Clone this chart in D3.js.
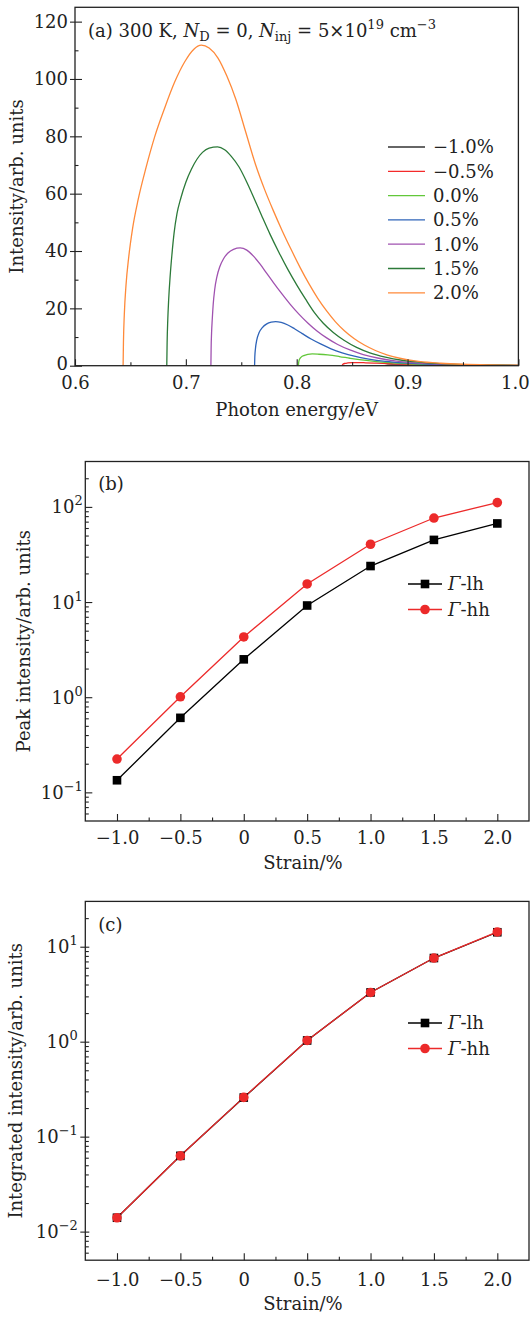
<!DOCTYPE html>
<html>
<head>
<meta charset="utf-8">
<script src="https://cdn.jsdelivr.net/npm/d3@7"></script>
<style>
  body { margin: 0; background: #fff; }
  svg text { font-family: "DejaVu Serif", "Liberation Serif", serif; fill: #222; }
</style>
</head>
<body>
<div id="chart"></div>
<script>
// ---- data ----
const strains = [-1.0, -0.5, 0, 0.5, 1.0, 1.5, 2.0];
const strainTickLabels = ["\u22121.0", "\u22120.5", "0", "0.5", "1.0", "1.5", "2.0"];

// (a) spectra, [photon energy (eV), intensity]
const specM10 = [[0.880,0],[0.8805,0.1],[0.882,0.2],[0.886,0.26],[0.892,0.28],[0.90,0.26],[0.915,0.2],[0.935,0.13],[0.96,0.07],[1.0,0.02]];
const specM05 = [[0.841,0],[0.8413,0.35],[0.842,0.6],[0.8435,0.8],[0.846,0.95],[0.850,1.05],[0.855,1.08],[0.862,1.02],[0.872,0.88],[0.885,0.68],[0.90,0.48],[0.92,0.28],[0.95,0.12],[1.0,0.03]];
const spec00 = [[0.8015,0],[0.8018,1.2],[0.8025,2.2],[0.804,3.0],[0.807,3.6],[0.810,3.95],[0.814,4.1],[0.820,4.0],[0.828,3.75],[0.8385,3.2],[0.848,2.6],[0.8566,2.1],[0.87,1.5],[0.893,0.85],[0.92,0.4],[0.95,0.18],[1.0,0.04]];
const spec05 = [[0.762,0],[0.7622,3],[0.7628,6],[0.764,9],[0.766,11.5],[0.769,13.3],[0.773,14.6],[0.777,15.2],[0.781,15.4],[0.786,15.1],[0.792,14.2],[0.798,12.9],[0.805,11.2],[0.813,9.3],[0.822,7.5],[0.831,5.9],[0.841,4.5],[0.852,3.3],[0.865,2.3],[0.88,1.5],[0.897,0.95],[0.92,0.5],[0.95,0.23],[0.975,0.12],[1.0,0.06]];
const spec10 = [[0.7226,0],[0.7228,6],[0.7232,11.4],[0.7238,16],[0.7247,21.5],[0.726,26.5],[0.728,31],[0.7307,34.6],[0.734,37.3],[0.738,39.3],[0.743,40.6],[0.749,41.1],[0.755,40.3],[0.761,38.2],[0.767,35.4],[0.773,32.2],[0.779,29.0],[0.786,25.4],[0.794,21.5],[0.802,18.0],[0.810,14.9],[0.818,12.2],[0.827,9.7],[0.837,7.4],[0.848,5.5],[0.86,3.9],[0.874,2.6],[0.89,1.6],[0.91,0.9],[0.93,0.52],[0.95,0.3],[0.975,0.15],[1.0,0.08]];
const spec15 = [[0.6828,0],[0.6831,8],[0.6837,16],[0.6845,23],[0.6858,31],[0.6875,39],[0.6894,46.3],[0.692,53],[0.6955,58.5],[0.700,64],[0.705,68.5],[0.710,72],[0.715,74.4],[0.721,75.9],[0.7286,76.3],[0.735,75.3],[0.741,73],[0.748,69.3],[0.755,64],[0.762,58],[0.769,51.8],[0.776,45.8],[0.784,39.5],[0.792,33.6],[0.800,28.2],[0.808,23.2],[0.816,18.5],[0.824,14.8],[0.833,11.6],[0.843,8.8],[0.854,6.4],[0.866,4.5],[0.88,3.0],[0.895,1.9],[0.915,1.1],[0.94,0.55],[0.97,0.26],[1.0,0.12]];
const spec20 = [[0.6434,0],[0.6437,8],[0.6445,18],[0.6460,28],[0.6485,38],[0.652,48],[0.657,58],[0.664,69],[0.672,80],[0.681,90],[0.690,99],[0.699,106],[0.707,110.3],[0.714,111.8],[0.721,110.8],[0.729,107.3],[0.737,101],[0.745,93],[0.754,81.5],[0.763,70],[0.771,61.5],[0.779,54],[0.787,47],[0.795,40.5],[0.803,34.3],[0.811,28.6],[0.819,23.5],[0.827,19.1],[0.835,15.3],[0.843,12.2],[0.852,9.4],[0.861,7.2],[0.871,5.3],[0.882,3.7],[0.893,2.6],[0.91,1.5],[0.93,0.85],[0.95,0.5],[0.975,0.28],[1.0,0.16]];
const spectra = [specM10, specM05, spec00, spec05, spec10, spec15, spec20];
const spectraLabels = ["\u22121.0%", "\u22120.5%", "0.0%", "0.5%", "1.0%", "1.5%", "2.0%"];
const spectraColors = ["#333333", "#f42a2a", "#62c73a", "#2f64b9", "#a052b0", "#2c7a39", "#ff8a3a"];

// (b) peak intensity
const peakLH = [0.134, 0.607, 2.5, 9.2, 23.9, 45, 67];
const peakHH = [0.224, 1.01, 4.3, 15.5, 40.5, 76.4, 111];
// (c) integrated intensity
const intLH = [0.0140, 0.0628, 0.258, 1.03, 3.3, 7.6, 14.2];
const intHH = [0.0140, 0.0628, 0.259, 1.03, 3.3, 7.6, 14.3];

const seriesNames = ["lh", "hh"];
const lhColor = "#000000", hhColor = "#ec2a2a";

// ---- setup ----
const width = 531, height = 1317;
const svg = d3.select("#chart").append("svg")
  .attr("width", width).attr("height", height);

const FS = 18;

function richText(g, x, y, parts, anchor) {
  const t = g.append("text").attr("x", x).attr("y", y)
    .attr("font-size", FS).attr("text-anchor", anchor || "start");
  let shift = 0;
  parts.forEach(p => {
    const ts = t.append("tspan").text(p.t);
    let target = 0;
    if (p.sub) target = 4;
    if (p.sup) target = -8;
    if (target !== shift) { ts.attr("dy", target - shift); shift = target; }
    if (p.sub || p.sup) ts.attr("font-size", 13);
    if (p.it) ts.attr("font-style", "italic");
  });
  return t;
}

function frame(p) {
  svg.append("rect")
    .attr("x", p.left).attr("y", p.top)
    .attr("width", p.right - p.left).attr("height", p.bottom - p.top)
    .attr("fill", "none").attr("stroke", "#222").attr("stroke-width", 1.3);
}

function cleanAxis(g) {
  g.select(".domain").remove();
  g.selectAll(".tick line").attr("stroke", "#222").attr("stroke-width", 1.1);
  g.selectAll(".tick text").attr("font-size", FS).attr("fill", "#222")
    .style("font-family", "'DejaVu Serif', serif");
}

// ================= panel (a) =================
const pa = { left: 75, right: 518.4, top: 7.3, bottom: 365.7 };
const xa = d3.scaleLinear().domain([0.6, 1.0]).range([pa.left, pa.right]);
const ya = d3.scaleLinear().domain([0, 125]).range([pa.bottom, pa.top]);

svg.append("clipPath").attr("id", "clipA").append("rect")
  .attr("x", pa.left).attr("y", pa.top).attr("width", pa.right - pa.left).attr("height", pa.bottom - pa.top);

const lineA = d3.line().x(d => xa(d[0])).y(d => ya(d[1])).curve(d3.curveMonotoneX);
svg.append("g").attr("clip-path", "url(#clipA)")
  .selectAll("path").data(spectra).join("path")
  .attr("d", d => lineA(d))
  .attr("fill", "none")
  .attr("stroke", (d, i) => spectraColors[i])
  .attr("stroke-width", 1.3);

svg.append("g").attr("transform", `translate(0,${pa.bottom})`)
  .call(d3.axisBottom(xa).tickValues([0.6, 0.7, 0.8, 0.9, 1.0]).tickSize(-6.5).tickPadding(10.5).tickFormat(d3.format(".1f")))
  .call(cleanAxis)
  .call(g => g.selectAll(".tick text").filter(d => d === 1.0).attr("dx", -3.5));
svg.append("g").attr("transform", `translate(0,${pa.bottom})`)
  .call(d3.axisBottom(xa).tickValues([0.65, 0.75, 0.85, 0.95]).tickSize(-3.5).tickFormat(""))
  .call(cleanAxis);
svg.append("g").attr("transform", `translate(${pa.left},0)`)
  .call(d3.axisLeft(ya).tickValues([0, 20, 40, 60, 80, 100, 120]).tickSize(5).tickPadding(2).tickFormat(d3.format("d")))
  .call(cleanAxis)
  .call(g => g.selectAll(".tick text").filter(d => d === 0).attr("dy", "0.22em"))
  .call(g => g.selectAll(".tick").append("line").attr("x2", 7).attr("stroke", "#222").attr("stroke-width", 1.1));
svg.append("g").attr("transform", `translate(${pa.left},0)`)
  .call(d3.axisLeft(ya).tickValues([10, 30, 50, 70, 90, 110]).tickSize(-3.5).tickFormat(""))
  .call(cleanAxis);
frame(pa);

richText(svg, 88, 37, [
  { t: "(a) 300 K, " }, { t: "N", it: true }, { t: "D", sub: true }, { t: " = 0, " },
  { t: "N", it: true }, { t: "inj", sub: true }, { t: " = 5\u00d710" }, { t: "19", sup: true },
  { t: " cm" }, { t: "\u22123", sup: true }
]);

svg.append("text").attr("x", (pa.left + pa.right) / 2).attr("y", 416)
  .attr("text-anchor", "middle").attr("font-size", FS).text("Photon energy/eV");
svg.append("text").attr("transform", `translate(23,${(pa.top + pa.bottom) / 2}) rotate(-90)`)
  .attr("text-anchor", "middle").attr("font-size", FS).text("Intensity/arb. units");

// legend (a)
const legA = svg.append("g").selectAll("g").data(spectraLabels).join("g")
  .attr("transform", (d, i) => `translate(388,${147 + i * 24.3})`);
legA.append("line").attr("x1", 0).attr("x2", 37)
  .attr("stroke", (d, i) => spectraColors[i]).attr("stroke-width", 1.3);
legA.append("text").attr("x", 45).attr("dy", "0.36em").attr("font-size", FS).text(d => d);

// ================= panels (b) and (c) =================
function logPanel(o) {
  const p = o.box;
  const x = d3.scaleLinear().domain([-1.25, 2.25]).range([p.left, p.right]);
  const y = d3.scaleLog().domain(o.domain).range([p.bottom, p.top]);

  svg.append("g").attr("transform", `translate(0,${p.bottom})`)
    .call(d3.axisBottom(x).tickValues(strains).tickSize(-7).tickPadding(o.xPad).tickFormat((d, i) => strainTickLabels[i]))
    .call(cleanAxis);
  svg.append("g").attr("transform", `translate(0,${p.bottom})`)
    .call(d3.axisBottom(x).tickValues([-0.75, -0.25, 0.25, 0.75, 1.25, 1.75]).tickSize(-3.5).tickFormat(""))
    .call(cleanAxis);

  const minor = [];
  for (let k = o.decades[0] - 1; k <= o.decades[o.decades.length - 1]; k++) {
    for (let m = 2; m <= 9; m++) minor.push(m * Math.pow(10, k));
  }
  const minorIn = minor.filter(v => v > o.domain[0] * 1.01 && v < o.domain[1] * 0.99);
  const major = o.decades.map(k => Math.pow(10, k));

  svg.append("g").attr("transform", `translate(${p.left},0)`)
    .call(d3.axisLeft(y).tickValues(major).tickSize(o.majorOut).tickFormat(""))
    .call(cleanAxis)
    .call(g => g.selectAll(".tick").append("line").attr("x2", o.majorIn).attr("stroke", "#222").attr("stroke-width", 1.1));
  svg.append("g").attr("transform", `translate(${p.left},0)`)
    .call(d3.axisLeft(y).tickValues(minorIn).tickSize(-3.5).tickFormat(""))
    .call(cleanAxis);

  o.decades.forEach(k => {
    richText(svg, p.left - o.labelGap, y(Math.pow(10, k)) + 6.5,
      [{ t: "10" }, { t: k < 0 ? "\u2212" + (-k) : String(k), sup: true }], "end");
  });

  const line = d3.line().x((d, i) => x(strains[i])).y(d => y(d));
  svg.append("path").attr("d", line(o.lh)).attr("fill", "none").attr("stroke", lhColor).attr("stroke-width", 1.3);
  svg.append("path").attr("d", line(o.hh)).attr("fill", "none").attr("stroke", hhColor).attr("stroke-width", 1.3);
  svg.append("g").selectAll("rect").data(o.lh).join("rect")
    .attr("x", (d, i) => x(strains[i]) - 4.3).attr("y", d => y(d) - 4.3)
    .attr("width", 8.6).attr("height", 8.6).attr("fill", lhColor);
  svg.append("g").selectAll("circle").data(o.hh).join("circle")
    .attr("cx", (d, i) => x(strains[i])).attr("cy", d => y(d)).attr("r", 4.8)
    .attr("fill", hhColor);

  frame(p);

  svg.append("text").attr("x", p.left + 13).attr("y", p.top + o.tagDy).attr("font-size", FS).text(o.tag);
  svg.append("text").attr("x", 303).attr("y", p.bottom + o.xLabelDy)
    .attr("text-anchor", "middle").attr("font-size", FS).text("Strain/%");
  svg.append("text").attr("transform", `translate(${o.ylabelX},${(p.top + p.bottom) / 2}) rotate(-90)`)
    .attr("text-anchor", "middle").attr("font-size", FS).text(o.ylabel);

  // legend
  const leg = svg.append("g").selectAll("g").data(seriesNames).join("g")
    .attr("transform", (d, i) => `translate(408,${o.legendY + i * 25.5})`);
  leg.append("line").attr("x1", 0).attr("x2", 34)
    .attr("stroke", (d, i) => i === 0 ? lhColor : hhColor).attr("stroke-width", 1.3);
  leg.filter((d, i) => i === 0).append("rect").attr("x", 12.7).attr("y", -4.3).attr("width", 8.6).attr("height", 8.6).attr("fill", lhColor);
  leg.filter((d, i) => i === 1).append("circle").attr("cx", 17).attr("r", 4.8).attr("fill", hhColor);
  leg.append("text").attr("x", 40).attr("dy", "0.36em").attr("font-size", FS)
    .call(t => t.append("tspan").attr("font-style", "italic").text("\u0393"))
    .call(t => t.append("tspan").text(d => "-" + d));
}

logPanel({
  box: { left: 85.3, right: 529, top: 461.5, bottom: 821 }, domain: [0.05, 300],
  lh: peakLH, hh: peakHH, tag: "(b)", tagDy: 28.5, ylabel: "Peak intensity/arb. units", ylabelX: 30,
  decades: [-1, 0, 1, 2], legendY: 584, xPad: 10, xLabelDy: 48, majorOut: 0, majorIn: 7, labelGap: 2.5
});
logPanel({
  box: { left: 85.3, right: 529, top: 901.4, bottom: 1260.2 }, domain: [0.005, 30],
  lh: intLH, hh: intHH, tag: "(c)", tagDy: 30, ylabel: "Integrated intensity/arb. units", ylabelX: 22,
  decades: [-2, -1, 0, 1], legendY: 1023, xPad: 13, xLabelDy: 50, majorOut: 5, majorIn: 4, labelGap: 7.5
});
</script>
</body>
</html>
